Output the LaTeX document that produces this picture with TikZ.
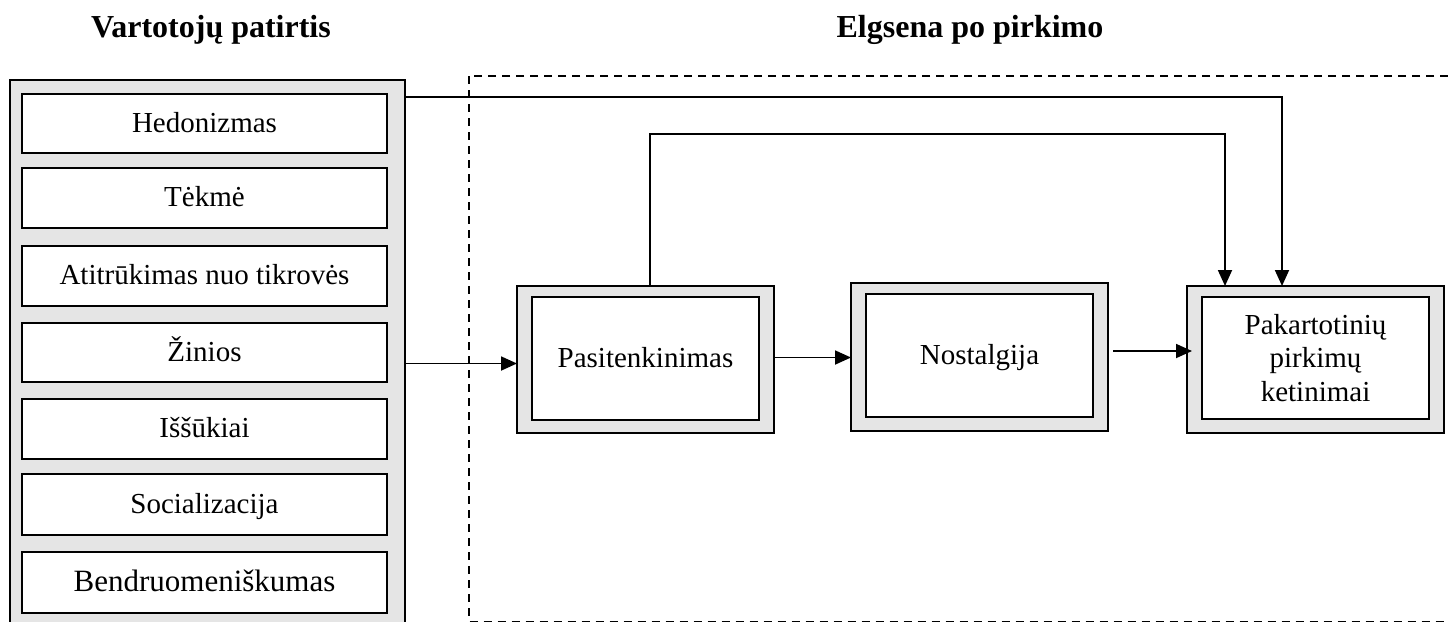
\documentclass[tikz,border=0pt]{standalone}
\usepackage{fontspec}
\setmainfont{Liberation Serif}
\usetikzlibrary{arrows.meta}
\begin{document}
\begin{tikzpicture}[x=1pt,y=-1pt,
  frame/.style={draw, line width=1.9pt, fill=black!10, inner sep=0pt, outer sep=0pt, anchor=north west},
  box/.style={draw, line width=1.9pt, fill=white, inner sep=0pt, outer sep=0pt, anchor=north west,
    font=\fontsize{29}{33.5}\selectfont},
  item/.style={box, text height=23pt, text depth=6pt},
  link/.style={line width=1.8pt, -{Triangle[length=16pt,width=14pt]}},
  heading/.style={font=\fontsize{32}{36}\selectfont\bfseries, anchor=base},
  zone/.style={draw, line width=1.5pt, dash pattern=on 8pt off 6pt}
]
\clip (0,0) rectangle (1448,621);
\fill[white] (0,0) rectangle (1448,621);

% headings
\node[heading] (hexp) at (211,37) {Vartotojų patirtis};
\node[heading] (hpost) at (970,37) {Elgsena po pirkimo};

% post-purchase area
\draw[zone] (469,76) rectangle (1470,621.5);

% experience dimensions
\node[frame, minimum width=395pt, minimum height=560pt] (exp) at (10,80) {};
\node[item, minimum width=365pt, minimum height=59pt] (hed) at (22,94) {Hedonizmas};
\node[item, minimum width=365pt, minimum height=60pt] (tek) at (22,168) {Tėkmė};
\node[item, minimum width=365pt, minimum height=60pt] (ati) at (22,246) {Atitrūkimas nuo tikrovės};
\node[item, minimum width=365pt, minimum height=59pt] (zin) at (22,323) {Žinios};
\node[item, minimum width=365pt, minimum height=60pt] (iss) at (22,399) {Iššūkiai};
\node[item, minimum width=365pt, minimum height=61pt] (soc) at (22,474) {Socializacija};
\node[item, minimum width=365pt, minimum height=61pt, font=\fontsize{31}{35}\selectfont] (ben) at (22,552) {Bendruomeniškumas};

% outcomes
\node[frame, minimum width=257pt, minimum height=147pt] (sat) at (517,286) {};
\node[item, minimum width=227pt, minimum height=123pt] (satin) at (532,297) {Pasitenkinimas};
\node[frame, minimum width=257pt, minimum height=148pt] (nos) at (851,283) {};
\node[item, minimum width=227pt, minimum height=123pt] (nosin) at (866,294) {Nostalgija};
\node[frame, minimum width=257pt, minimum height=147pt] (rep) at (1187,286) {};
\node[box, align=center, minimum width=227pt, minimum height=122pt] (repin) at (1202,297) {Pakartotinių\\pirkimų\\ketinimai};

% connectors
\draw[link] ([yshift=-4pt]sat.west -| exp.east) -- ([yshift=-4pt]sat.west);
\draw[link] ([yshift=2pt]sat.east) -- ([yshift=2pt]sat.east -| nos.west);
\draw[link] ([xshift=5pt,yshift=6pt]nos.east) -- ([xshift=5pt,yshift=6pt]nos.east -| rep.west);
\draw[link] ([yshift=-17pt]exp.north east) -| ([xshift=95pt]rep.north west);
\coordinate (loop) at (1225,134);
\draw[link] ([xshift=133pt]sat.north west) |- (loop) -- (loop |- rep.north);
\end{tikzpicture}
\end{document}
